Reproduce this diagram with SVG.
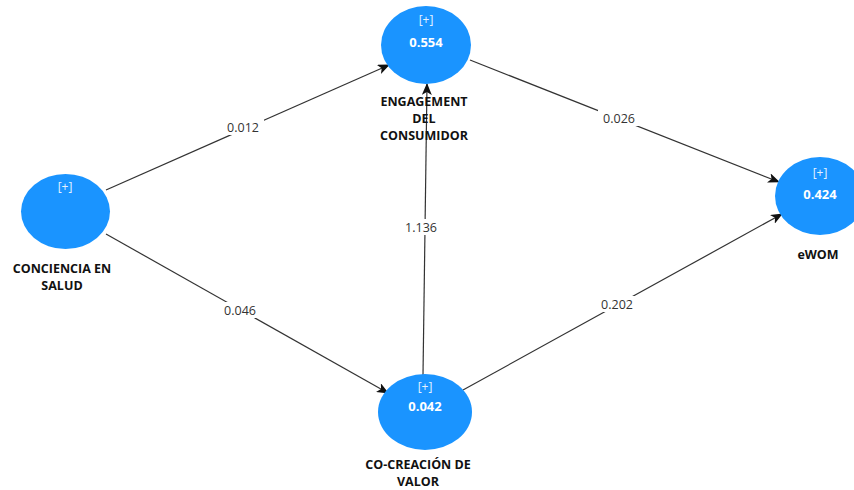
<svg xmlns="http://www.w3.org/2000/svg" width="854" height="490" viewBox="0 0 854 490">
<defs>
<marker id="ah" markerWidth="12" markerHeight="10" refX="11" refY="5" orient="auto" markerUnits="userSpaceOnUse">
<path d="M0,0 L12,5 L0,10 L3,5 Z" fill="#111"/>
</marker>
<style>
.node{fill:#1a94ff;}
.plus{font-family:"Open Sans","Liberation Sans",sans-serif;font-size:12px;fill:#e6f2ff;text-anchor:middle;}
.val{font-family:"Open Sans","Liberation Sans",sans-serif;font-size:13px;font-weight:bold;fill:#fff;text-anchor:middle;}
.lbl{font-family:"Open Sans","Liberation Sans",sans-serif;font-size:12.5px;font-weight:bold;fill:#111;text-anchor:middle;}
.edge{stroke:#333;stroke-width:1.2;fill:none;marker-end:url(#ah);}
.el{font-family:"Open Sans","Liberation Sans",sans-serif;font-size:12.5px;fill:#333;text-anchor:middle;}
.bg{fill:#fff;}
</style>
</defs>
<rect width="854" height="490" fill="#fff"/>
<g id="connectors">
<line class="edge" x1="106" y1="190" x2="389" y2="65"/>
<line class="edge" x1="106" y1="234" x2="388" y2="393"/>
<line class="edge" x1="423" y1="375" x2="427" y2="84"/>
<line class="edge" x1="470" y1="60" x2="779" y2="182"/>
<line class="edge" x1="463" y1="390" x2="782" y2="214"/>
<rect class="bg" x="222" y="119" width="42" height="16"/>
<text class="el" x="243" y="132">0.012</text>
<rect class="bg" x="219" y="302" width="42" height="16"/>
<text class="el" x="240" y="315">0.046</text>
<rect class="bg" x="401" y="219" width="40" height="16"/>
<text class="el" x="421" y="232">1.136</text>
<rect class="bg" x="598" y="110" width="42" height="16"/>
<text class="el" x="619" y="123">0.026</text>
<rect class="bg" x="596" y="296" width="42" height="16"/>
<text class="el" x="617" y="309">0.202</text>
</g>
<g id="engagement">
<ellipse class="node" cx="426" cy="45" rx="45" ry="39"/>
<text class="plus" x="426" y="24">[+]</text>
<text class="val" x="426" y="47">0.554</text>
<text class="lbl" x="424" y="106">ENGAGEMENT</text>
<text class="lbl" x="424" y="123">DEL</text>
<text class="lbl" x="424" y="140">CONSUMIDOR</text>
</g>
<g id="conciencia">
<ellipse class="node" cx="65.5" cy="211.5" rx="44.5" ry="37.5"/>
<text class="plus" x="65" y="191">[+]</text>
<text class="lbl" x="62" y="273">CONCIENCIA EN</text>
<text class="lbl" x="62" y="290">SALUD</text>
</g>
<g id="ewom">
<ellipse class="node" cx="820" cy="196" rx="45" ry="39"/>
<text class="plus" x="820" y="177">[+]</text>
<text class="val" x="820" y="199">0.424</text>
<text class="lbl" x="818" y="259">eWOM</text>
</g>
<g id="cocreacion">
<ellipse class="node" cx="425" cy="412" rx="47" ry="38"/>
<text class="plus" x="425" y="391">[+]</text>
<text class="val" x="425" y="411">0.042</text>
<text class="lbl" x="418" y="469">CO-CREACIÓN DE</text>
<text class="lbl" x="418" y="486">VALOR</text>
</g>
</svg>
